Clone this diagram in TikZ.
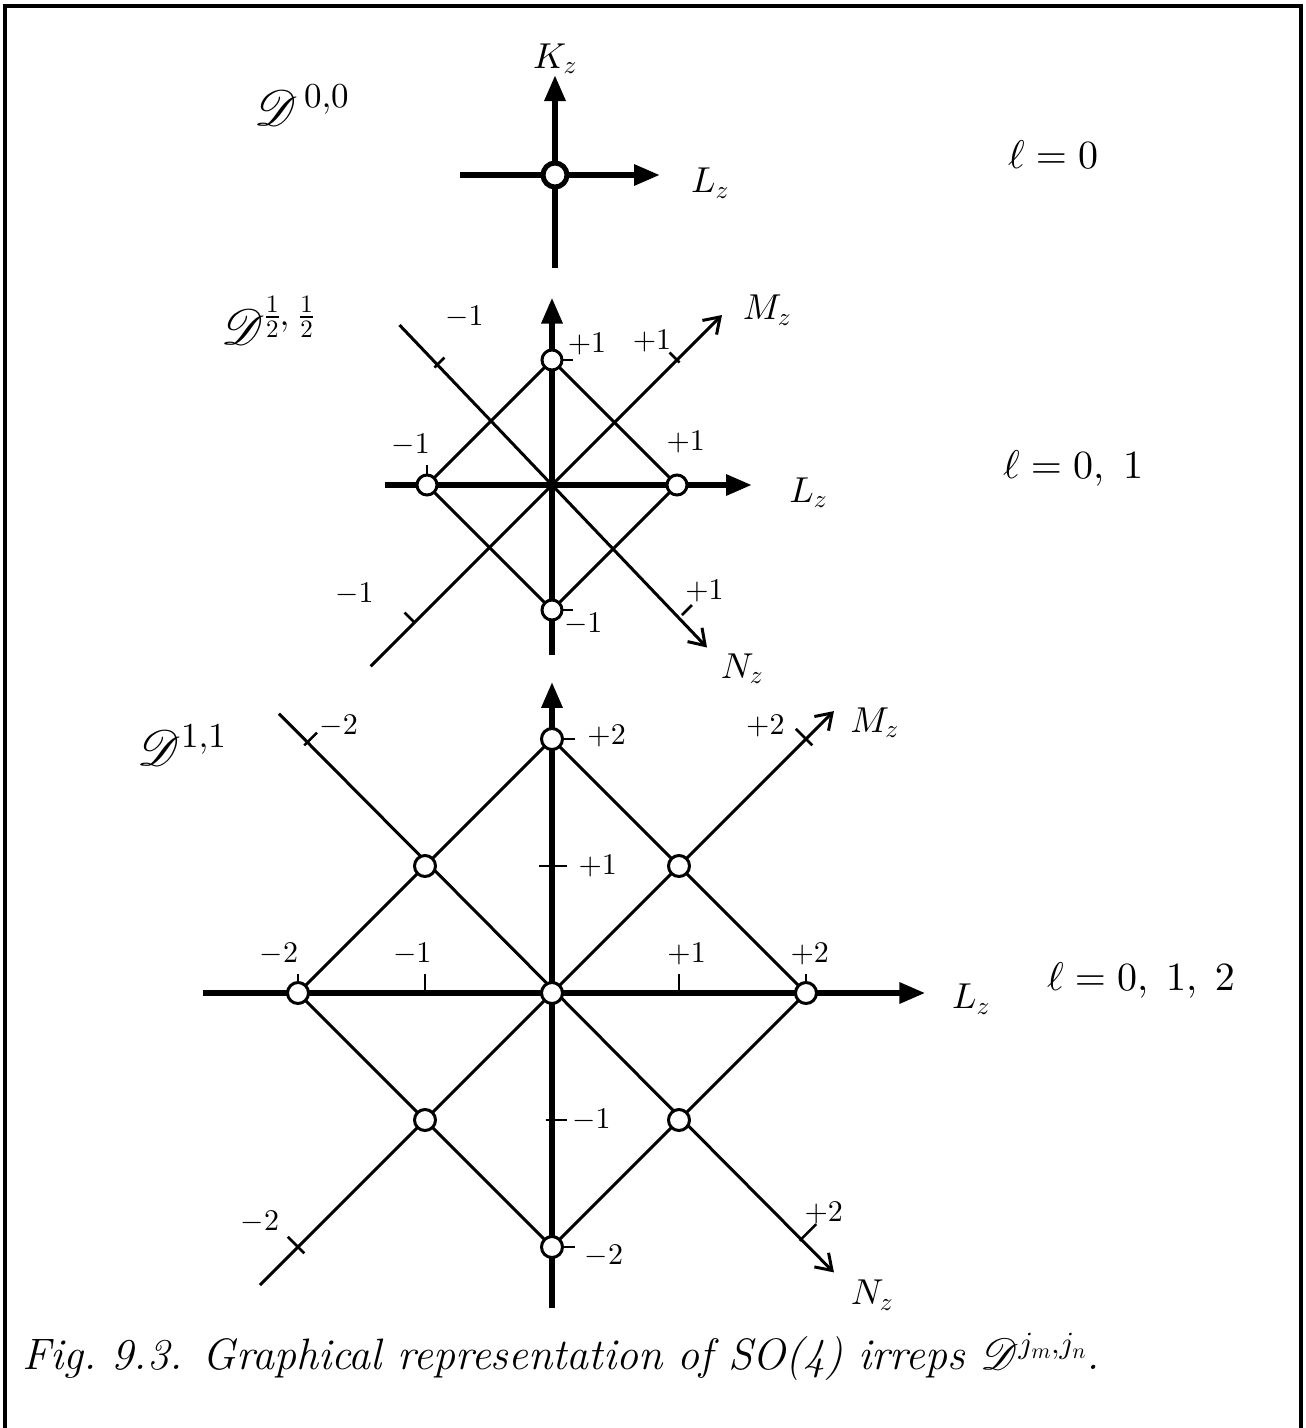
\documentclass[tikz,border=0pt]{standalone}
\usepackage{amsmath,amssymb}
\usepackage{tikz}
\usetikzlibrary{arrows.meta,positioning,calc}
% scalable cm math fonts and rsfs script letters
\DeclareFontShape{OT1}{cmr}{m}{n}{<-> cmr10}{}
\DeclareFontShape{OML}{cmm}{m}{it}{<-> cmmi10}{}
\DeclareFontShape{OMS}{cmsy}{m}{n}{<-> cmsy10}{}
\DeclareFontFamily{U}{scrD}{\skewchar\font127}
\DeclareFontShape{U}{scrD}{m}{n}{<-> rsfs10}{}
\DeclareMathAlphabet{\mathscr}{U}{scrD}{m}{n}
\tikzset{
  % heavy L_z / K_z axes with filled heads, light diagonal M_z / N_z axes
  axis/.style  = {-{Triangle[length=26pt,width=20pt]}, line width=6pt},
  diag/.style  = {-{Straight Barb[length=15pt,width=20pt]}, line width=3pt},
  rung/.style  = {line width=3pt},
  tck/.style   = {line width=2.5pt},
  st/.style    = {circle, draw, fill=white, line width=3pt, inner sep=0pt, minimum size=21pt},
  num/.style   = {font=\fontsize{30}{32}\selectfont, inner sep=1pt},
  ax/.style    = {font=\fontsize{36}{38}\selectfont, inner sep=1pt},
  ell/.style   = {font=\fontsize{40}{42}\selectfont, anchor=west, inner sep=0pt},
  rep/.style   = {font=\fontsize{50}{52}\selectfont, inner sep=0pt},
}
\begin{document}
\begin{tikzpicture}[x=1pt,y=-1pt]
\useasboundingbox (0,0) rectangle (1306,1428);
\draw[line width=3.5pt] (5,1428) -- (5,6) -- (1301,6) -- (1301,1428);

% D^{0,0}
\begin{scope}[shift={(555,175)}, x=1pt, y=1pt]
  \coordinate (AO) at (0,0);
  \coordinate (ALs) at (-95,0);  \coordinate (ALe) at (105,0);
  \coordinate (AKs) at (0,-93);  \coordinate (AKe) at (0,100);
  \draw[axis] (ALs) -- (ALe);
  \draw[axis] (AKs) -- (AKe);
  \node[st, line width=5pt, minimum size=24pt] (A-st) at (AO) {};
  \node[ax, above=0pt of AKe] (A-K) {$K_z$};
  \node[ax, right=30pt of ALe, yshift=-8pt] (A-L) {$L_z$};
\end{scope}
\node[rep] (A-rep) at (302,105) {$\mathscr{D}^{\,0,0}$};
\node[ell] (A-ell) at (1008,155) {$\ell = 0$};

% D^{1/2,1/2}
\begin{scope}[shift={(552,485)}, x=125pt, y=125pt]
  \foreach \n/\p in {t/{0,1}, l/{-1,0}, r/{1,0}, b/{0,-1}, o/{0,0}}
    \coordinate (B\n) at (\p);
  \coordinate (BLs) at (-1.34,0);    \coordinate (BLe) at (1.6,0);
  \coordinate (BKs) at (0,-1.36);    \coordinate (BKe) at (0,1.5);
  \coordinate (BMs) at (-1.45,-1.45); \coordinate (BMe) at (1.36,1.36);
  \coordinate (BNs) at (-1.22,1.28); \coordinate (BNe) at (1.24,-1.3);
  \draw[rung] (Bt) -- (Br) -- (Bb) -- (Bl) -- cycle;
  \draw[diag] (BMs) -- (BMe);
  \draw[diag] (BNs) -- (BNe);
  \draw[axis] (BLs) -- (BLe);
  \draw[axis] (BKs) -- (BKe);
  % ticks
  \draw[tck] (Bl) -- ++(0,0.16);
  \draw[tck] (Bt) -- ++(0.17,0);
  \draw[tck] (Bb) -- ++(0.17,0);
  \draw[tck] (1.02,0.98) -- (0.94,1.06);
  \draw[tck] (-1.1,-1.1) -- (-1.18,-1.02);
  \draw[tck] (-0.94,0.94) -- (-0.86,1.02);
  \draw[tck] (1.04,-1.04) -- (1.12,-0.96);
  \foreach \n in {t,l,r,b}
    \node[st, minimum size=20pt] (B-st-\n) at (B\n) {};
  \node[num] (B-t) at (0.28,1.13) {$+1$};
  \node[num] (B-b) at (0.25,-1.11) {$-1$};
  \node[num] (B-l) at (-1.13,0.32) {$-1$};
  \node[num] (B-r) at (1.07,0.34) {$+1$};
  \node[num] (B-Mp) at (0.8,1.15) {$+1$};
  \node[num] (B-Mm) at (-1.58,-0.87) {$-1$};
  \node[num] (B-Nm) at (-0.7,1.34) {$-1$};
  \node[num] (B-Np) at (1.22,-0.85) {$+1$};
  \node[ax] (B-M) at (1.72,1.4) {$M_z$};
  \node[ax] (B-N) at (1.52,-1.47) {$N_z$};
  \node[ax] (B-L) at (2.05,-0.06) {$L_z$};
\end{scope}
\node[rep] (B-rep) at (268,320) {$\mathscr{D}^{\frac12,\;\frac12}$};
\node[ell] (B-ell) at (1003,468) {$\ell = 0,\ 1$};

% D^{1,1}
\begin{scope}[shift={(552,993)}, x=127pt, y=127pt]
  \foreach \n/\p in {t/{0,2}, ul/{-1,1}, ur/{1,1}, l/{-2,0}, o/{0,0},
                     r/{2,0}, dl/{-1,-1}, dr/{1,-1}, b/{0,-2}}
    \coordinate (C\n) at (\p);
  \coordinate (CLs) at (-2.75,0);   \coordinate (CLe) at (2.94,0);
  \coordinate (CKs) at (0,-2.48);   \coordinate (CKe) at (0,2.45);
  \coordinate (CMs) at (-2.3,-2.3); \coordinate (CMe) at (2.22,2.22);
  \coordinate (CNs) at (-2.15,2.2); \coordinate (CNe) at (2.22,-2.2);
  \draw[rung] (Ct) -- (Cr) -- (Cb) -- (Cl) -- cycle;
  \draw[diag] (CMs) -- (CMe);
  \draw[diag] (CNs) -- (CNe);
  \draw[axis] (CLs) -- (CLe);
  \draw[axis] (CKs) -- (CKe);
  % ticks
  \foreach \x/\t/\dx in {-2/-2/-0.15,-1/-1/-0.1,1/+1/0.06,2/+2/0.03}{
    \draw[tck] (\x,0) -- (\x,0.15);
    \node[num] (C-h\x) at (\x+\dx,0.31) {$\t$};
  }
  \draw[tck] (-0.1,1) -- (0.12,1);
  \draw[tck] (0,2) -- (0.18,2);
  \draw[tck] (-0.05,-1) -- (0.12,-1);
  \draw[tck] (0,-2) -- (0.18,-2);
  \node[num] (C-v1)  at (0.36,1.0) {$+1$};
  \node[num] (C-v2)  at (0.43,2.02) {$+2$};
  \node[num] (C-v-1) at (0.31,-1.0) {$-1$};
  \node[num] (C-v-2) at (0.41,-2.07) {$-2$};
  \draw[tck] (2.05,1.95) -- (1.92,2.08);
  \draw[tck] (-1.95,-2.05) -- (-2.08,-1.92);
  \draw[tck] (-1.95,1.95) -- (-1.85,2.05);
  \draw[tck] (1.95,-1.95) -- (2.08,-1.82);
  \node[num] (C-Mp) at (1.68,2.1) {$+2$};
  \node[num] (C-Mm) at (-2.3,-1.8) {$-2$};
  \node[num] (C-Nm) at (-1.68,2.1) {$-2$};
  \node[num] (C-Np) at (2.14,-1.73) {$+2$};
  \foreach \n in {t,ul,ur,l,o,r,dl,dr,b}
    \node[st] (C-st-\n) at (C\n) {};
  \node[ax] (C-M) at (2.54,2.13) {$M_z$};
  \node[ax] (C-N) at (2.52,-2.38) {$N_z$};
  \node[ax] (C-L) at (3.3,-0.05) {$L_z$};
\end{scope}
\node[rep] (C-rep) at (182,745) {$\mathscr{D}^{1,1}$};
\node[ell] (C-ell) at (1047,980) {$\ell = 0,\;1,\;2$};

\node[anchor=west, inner sep=0pt, font=\fontsize{44}{48}\selectfont\itshape] (cap) at (22,1357)
  {Fig.~9.3. Graphical representation of SO(4) irreps $\mathscr{D}^{j_m,j_n}$.};
\end{tikzpicture}
\end{document}
